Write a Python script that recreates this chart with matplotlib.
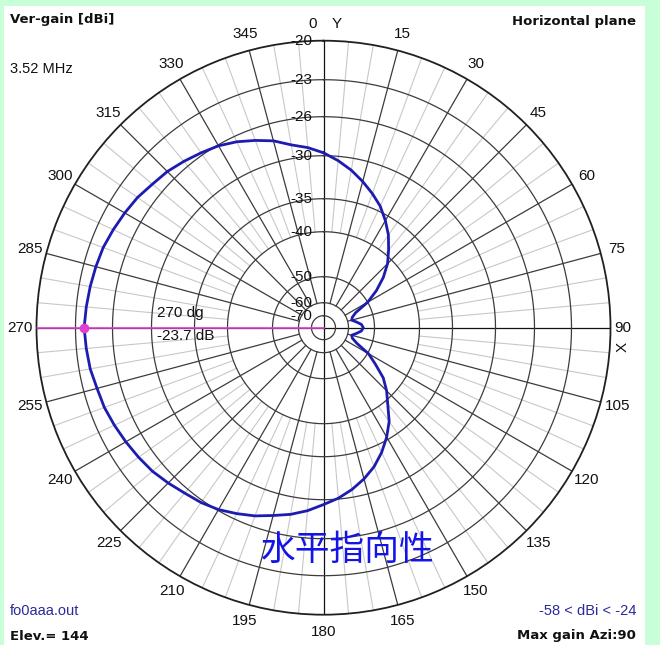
import numpy as np
import matplotlib.pyplot as plt
from matplotlib.patches import Rectangle
from matplotlib.transforms import ScaledTranslation

# horizontal pattern: azimuth (deg, clockwise from Y) and vertical gain (dBi)
azimuth = [0, 5, 10, 15, 20, 25, 30, 35, 40, 45, 50, 55, 60, 65, 70, 75, 80, 85,
           90, 95, 100, 105, 110, 115, 120, 125, 130, 135, 140, 145, 150, 155, 160,
           165, 170, 175, 180, 185, 190, 195, 200, 205, 210, 215, 220, 225, 230,
           235, 240, 245, 250, 255, 260, 265, 270, 275, 280, 285, 290, 295, 300,
           305, 310, 315, 320, 325, 330, 335, 340, 345, 350, 355, 360]
gain = [-29.7, -30.5, -31.4, -32.4, -33.4, -34.4, -35.8, -37.4, -39.2, -41.2,
        -44.0, -47.0, -50.0, -56.0, -57.8, -58.4, -56.8, -55.0, -54.3, -55.0,
        -56.8, -58.4, -57.8, -55.5, -49.8, -47.3, -44.0, -41.5, -39.4, -37.2,
        -35.4, -34.0, -32.8, -31.8, -30.9, -30.1, -29.5, -28.8, -28.2, -27.7,
        -27.1, -26.6, -26.1, -25.8, -25.6, -25.3, -25.0, -24.8, -24.6, -24.4,
        -24.2, -24.1, -23.9, -23.8, -23.7, -23.8, -23.9, -24.0, -24.1, -24.3,
        -24.5, -24.7, -25.0, -25.2, -25.5, -25.8, -26.1, -26.6, -27.2, -27.8,
        -28.6, -29.1, -29.7]

cursor_az = 270
cursor_db = -23.7

# MMANA style radial scale: ring value -> radius in pixels
ring_db = [-80, -70, -60, -50, -40, -35, -30, -26, -23, -20]
ring_px = [0, 12, 25, 51, 96, 129, 172, 211, 248, 287]
label_rings = [-70, -60, -50, -40, -35, -30, -26, -23, -20]
az_labels = list(range(0, 360, 15))


def fwd(v):
    return np.interp(v, ring_db, ring_px)


def inv(r):
    return np.interp(r, ring_px, ring_db)


W, H = 660, 645
fig = plt.figure(figsize=(W / 100, H / 100), dpi=100)
fig.patch.set_facecolor('#c8ffd9')


def px(x, y):
    return x / W, 1 - y / H


# white panel
fig.patches.append(Rectangle(px(4, 645), (645 - 4) / W, (645 - 6) / H,
                             transform=fig.transFigure, facecolor='white',
                             edgecolor='none', zorder=-5))

cx, cy, R = 323.5, 327.7, 287
x0, y0 = px(cx - R, cy + R)
ax = fig.add_axes([x0, y0, 2 * R / W, 2 * R / H], projection='polar')
ax.set_zorder(1)
ax.set_facecolor('none')
ax.set_theta_zero_location('N')
ax.set_theta_direction(-1)
ax.set_rscale('function', functions=(fwd, inv))
ax.set_rlim(-80, -20)
ax.set_xticks([])
ax.set_yticks([])
ax.grid(False)
ax.spines['polar'].set_color('#202020')
ax.spines['polar'].set_linewidth(1.3)

dark = '#3c3c3c'
light = '#c8c8c8'
full = np.linspace(0, 2 * np.pi, 721)

# light spokes every 5 degrees
for a in range(0, 360, 5):
    if a % 15:
        ax.plot([np.deg2rad(a)] * 2, [-40, -20], color=light, lw=0.8, zorder=1)
# dark spokes every 15 degrees
for a in range(0, 360, 15):
    inner = -80 if a % 90 == 0 else -60
    col = '#111111' if a % 90 == 0 else dark
    ax.plot([np.deg2rad(a)] * 2, [inner, -20], color=col, lw=0.9, zorder=2)
# rings
for v in label_rings[:-1]:
    ax.plot(full, [v] * len(full), color=dark, lw=0.9, zorder=2)

# pattern
ax.plot(np.deg2rad(azimuth), gain, color='#1c1cb0', lw=2.0, zorder=5)

# cursor line at max gain
ax.plot([np.deg2rad(cursor_az)] * 2, [-80, -20], color='#e040d0', lw=1.2, zorder=4)
ax.plot([np.deg2rad(cursor_az)], [cursor_db], 'o', color='#e040d0', ms=6, zorder=6)

num_font = dict(family='Liberation Sans', fontsize=11, color='#111111')

# ring labels beside the Y axis
shift = ScaledTranslation(-11 / 100, 0, fig.dpi_scale_trans)
for v in label_rings:
    ax.text(0, v, str(v), ha='right', va='center', transform=ax.transData + shift,
            zorder=7, **num_font)

# azimuth labels
k = 304 / R
for a in az_labels:
    t = np.deg2rad(a)
    xa, ya = 0.5 + 0.5 * k * np.sin(t), 0.5 + 0.5 * k * np.cos(t)
    if a == 0:
        ax.text(xa, ya, '0', ha='center', va='center', transform=ax.transAxes
                + ScaledTranslation(-11 / 100, 0, fig.dpi_scale_trans), **num_font)
        ax.text(xa, ya, 'Y', ha='center', va='center', transform=ax.transAxes
                + ScaledTranslation(13 / 100, 0, fig.dpi_scale_trans), **num_font)
    elif a == 90:
        ax.text(xa, ya, '90', ha='center', va='center', transform=ax.transAxes
                + ScaledTranslation(-5 / 100, 0, fig.dpi_scale_trans), **num_font)
        ax.text(xa, ya, 'X', ha='center', va='center', rotation=90,
                transform=ax.transAxes
                + ScaledTranslation(-5 / 100, -19 / 100, fig.dpi_scale_trans),
                **num_font)
    else:
        ax.text(xa, ya, str(a), ha='center', va='center', transform=ax.transAxes,
                **num_font)

# cursor readout
fig.text(*px(157, 313), f'{cursor_az} dg', ha='left', va='center', **num_font)
fig.text(*px(157, 336), f'{cursor_db} dB', ha='left', va='center', **num_font)

# header and footer texts
bold = dict(family='DejaVu Sans', fontsize=9.5, fontweight='bold', color='#111111')
fig.text(*px(10, 20), 'Ver-gain [dBi]', ha='left', va='center', **bold)
fig.text(*px(636, 22), 'Horizontal plane', ha='right', va='center', **bold)
fig.text(*px(10, 636), 'Elev.= 144', ha='left', va='center', **bold)
fig.text(*px(636, 636), 'Max gain Azi:90', ha='right', va='center', **bold)
fig.text(*px(10, 69), '3.52 MHz', ha='left', va='center',
         family='Liberation Sans', fontsize=10.5, color='#111111')
fig.text(*px(10, 611), 'fo0aaa.out', ha='left', va='center',
         family='Liberation Sans', fontsize=10.5, color='#2a2a9a')
fig.text(*px(636, 611), f'{min(gain):.0f} < dBi < {max(gain):.0f}', ha='right',
         va='center', family='Liberation Sans', fontsize=10.5, color='#2a2a9a')

fig.text(*px(347, 550), '水平指向性', ha='center', va='center',
         family='Noto Sans CJK JP', fontsize=25, color='#1414e6', zorder=5)

fig.savefig('out.png', dpi=100, facecolor=fig.get_facecolor())
